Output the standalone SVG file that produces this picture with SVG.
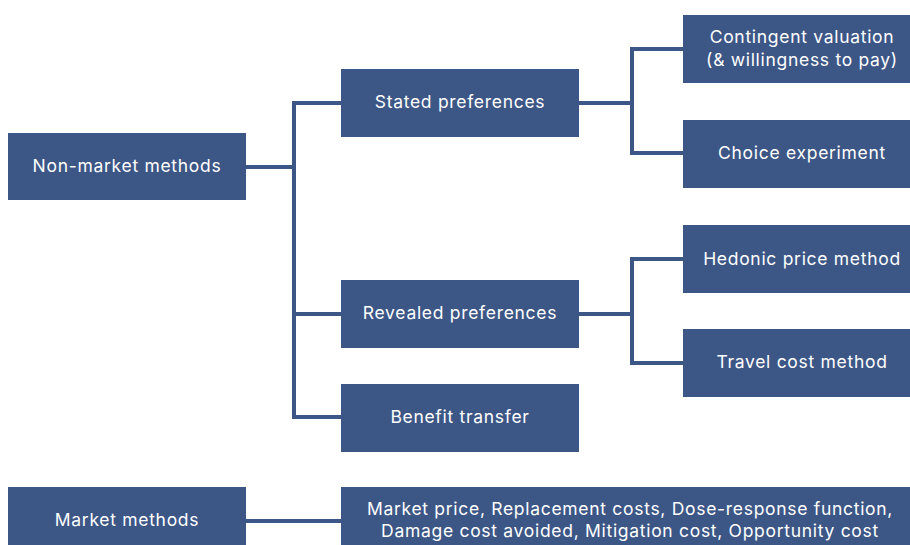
<svg xmlns="http://www.w3.org/2000/svg" width="910" height="545" viewBox="0 0 910 545">
<style>
.box{fill:#3c5686}
.lbl{fill:#ffffff;font-family:Inter,"Noto Sans",sans-serif;font-size:17.5px;letter-spacing:0.7px;text-anchor:middle;dominant-baseline:central}
.con{fill:none;stroke:#3c5686;stroke-width:4;stroke-linejoin:miter}
</style>
<rect width="910" height="545" fill="#ffffff"/>
<g id="connectors">
<path class="con" d="M246 167H294"/>
<path class="con" d="M341 103H294V417H341"/>
<path class="con" d="M294 314H341"/>
<path class="con" d="M579 103H632"/>
<path class="con" d="M683 49H632V153H683"/>
<path class="con" d="M579 314H632"/>
<path class="con" d="M683 259H632V363H683"/>
<path class="con" d="M246 521H341"/>
</g>
<g id="non-market"><rect class="box" x="8" y="133" width="238" height="67"/><text class="lbl" x="127" y="165.5">Non-market methods</text></g>
<g id="stated"><rect class="box" x="341" y="69" width="238" height="68"/><text class="lbl" x="460" y="101">Stated preferences</text></g>
<g id="contingent"><rect class="box" x="683" y="15" width="238" height="68"/><text class="lbl" x="802" y="36">Contingent valuation</text><text class="lbl" x="802" y="59">(&amp; willingness to pay)</text></g>
<g id="choice"><rect class="box" x="683" y="120" width="238" height="68"/><text class="lbl" x="802" y="152">Choice experiment</text></g>
<g id="hedonic"><rect class="box" x="683" y="225" width="238" height="68"/><text class="lbl" x="802" y="258">Hedonic price method</text></g>
<g id="revealed"><rect class="box" x="341" y="280" width="238" height="68"/><text class="lbl" x="460" y="312">Revealed preferences</text></g>
<g id="travel"><rect class="box" x="683" y="329" width="238" height="68"/><text class="lbl" x="802" y="361">Travel cost method</text></g>
<g id="benefit"><rect class="box" x="341" y="384" width="238" height="68"/><text class="lbl" x="460" y="416">Benefit transfer</text></g>
<g id="market"><rect class="box" x="8" y="487" width="238" height="68"/><text class="lbl" x="127" y="519">Market methods</text></g>
<g id="market-list"><rect class="box" x="341" y="487" width="578" height="68"/><text class="lbl" x="630" y="508">Market price, Replacement costs, Dose-response function,</text><text class="lbl" x="630" y="530">Damage cost avoided, Mitigation cost, Opportunity cost</text></g>
</svg>
